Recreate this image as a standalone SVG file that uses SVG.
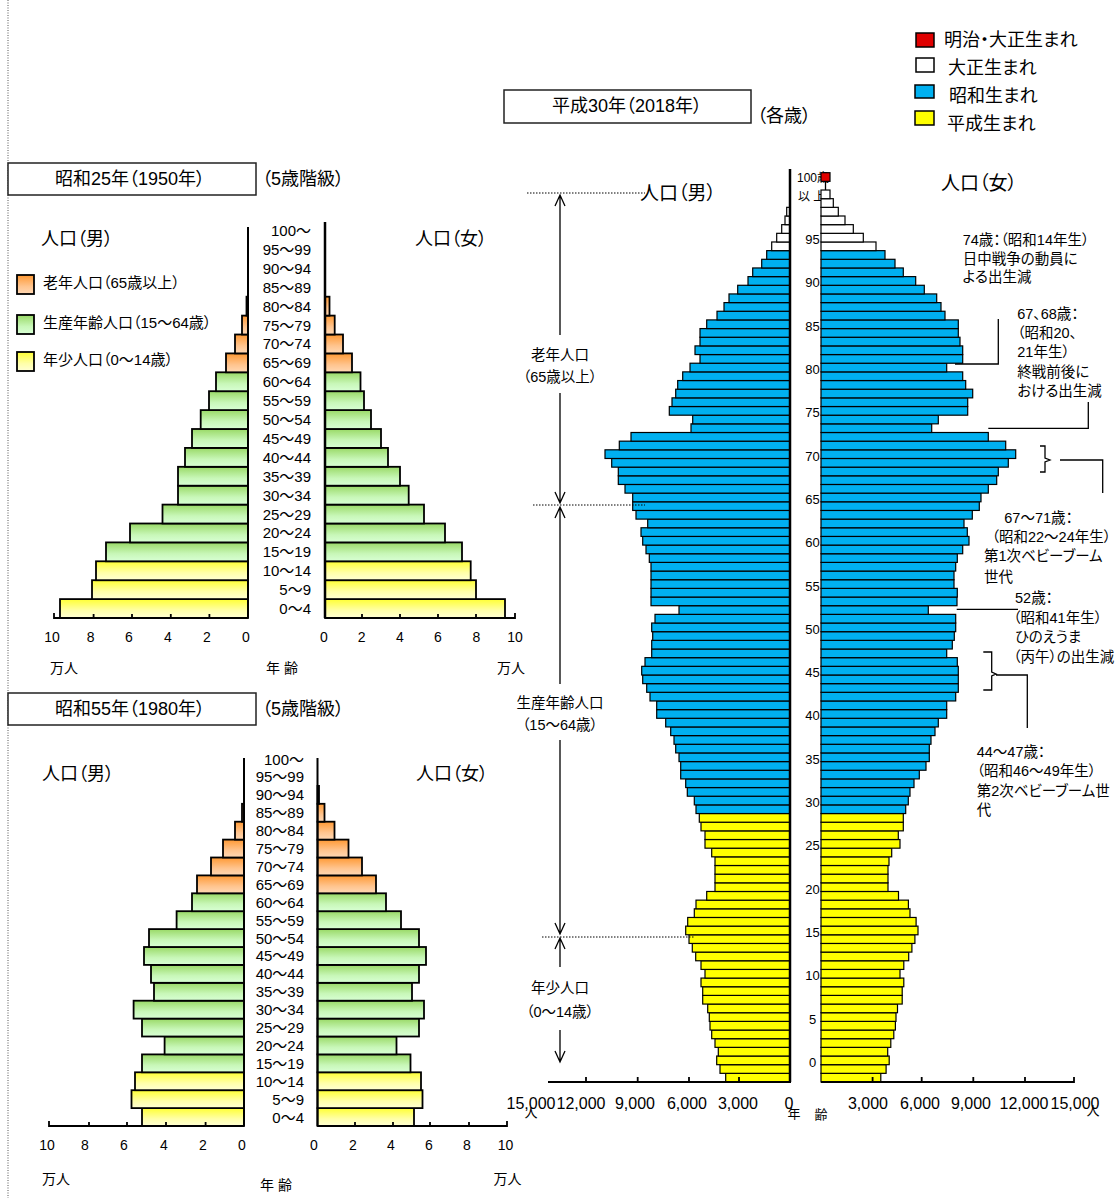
<svg xmlns="http://www.w3.org/2000/svg" width="1117" height="1198" viewBox="0 0 1117 1198">
<defs>
<linearGradient id="gO" x1="0" y1="0" x2="0" y2="1"><stop offset="0" stop-color="#FF9933"/><stop offset="0.6" stop-color="#FFC48E"/><stop offset="1" stop-color="#FFD8B4"/></linearGradient>
<linearGradient id="gG" x1="0" y1="0" x2="0" y2="1"><stop offset="0" stop-color="#99D966"/><stop offset="0.6" stop-color="#C8F7B8"/><stop offset="1" stop-color="#D8FFD4"/></linearGradient>
<linearGradient id="gY" x1="0" y1="0" x2="0" y2="1"><stop offset="0" stop-color="#FFFF33"/><stop offset="0.6" stop-color="#FFFFA8"/><stop offset="1" stop-color="#FFFFD4"/></linearGradient>
</defs>
<style>
text{font-family:"Liberation Sans","Noto Sans CJK JP",sans-serif;fill:#000;dominant-baseline:central;font-feature-settings:"palt"}
.s12{font-size:12px}.s13{font-size:13px}.s14{font-size:14px}.s145{font-size:14.5px}.s15{font-size:15px}.s16{font-size:16px}.s18{font-size:18px}.s19{font-size:19px}
.m{text-anchor:middle}.e{text-anchor:end}
.b1 rect{stroke:#000;stroke-width:1.8}
.o{fill:url(#gO)}.g{fill:url(#gG)}.y{fill:url(#gY)}
.b2 rect{stroke:#000;stroke-width:1.2}
.bl{fill:#00B0F0}.ye{fill:#FFFF00}.wh{fill:#FFFFFF}.rd{fill:#E00000}
.ax{stroke:#000;fill:none}
.dot{stroke:#000;stroke-width:1;stroke-dasharray:1.5 1.5;fill:none}
.ln{stroke:#000;stroke-width:1.3;fill:none}
.box{fill:#fff;stroke:#222;stroke-width:1.5}
</style>
<rect width="1117" height="1198" fill="#fff"/>
<line x1="8" y1="0" x2="8" y2="1198" stroke="#555" stroke-width="1" stroke-dasharray="1 1.5"/>

<!-- 1950 -->
<g id="p1950">
<rect class="box" x="8" y="163" width="248" height="32"/>
<text class="s18 m" x="130" y="179">昭和25年（1950年）</text>
<text class="s18" x="262" y="179">（5歳階級）</text>
<text class="s18" x="41" y="239">人口（男）</text>
<text class="s18" x="415" y="239">人口（女）</text>
<g id="legend1950" class="b1">
<rect class="o" x="17" y="275" width="17" height="19"/>
<rect class="g" x="17" y="315" width="17" height="19"/>
<rect class="y" x="17" y="352" width="17" height="19"/>
</g>
<text class="s15" x="43" y="282">老年人口（65歳以上）</text>
<text class="s15" x="43" y="322">生産年齢人口（15～64歳）</text>
<text class="s15" x="43" y="359">年少人口（0～14歳）</text>
<g class="b1">
<rect class="y" x="60" y="599.1" width="188" height="18.9"/>
<rect class="y" x="92" y="580.2" width="156" height="18.9"/>
<rect class="y" x="96" y="561.3" width="152" height="18.9"/>
<rect class="g" x="106" y="542.4" width="142" height="18.9"/>
<rect class="g" x="130" y="523.5" width="118" height="18.9"/>
<rect class="g" x="162.5" y="504.6" width="85.5" height="18.9"/>
<rect class="g" x="178" y="485.7" width="70" height="18.9"/>
<rect class="g" x="178" y="466.8" width="70" height="18.9"/>
<rect class="g" x="185" y="447.9" width="63" height="18.9"/>
<rect class="g" x="192" y="429" width="56" height="18.9"/>
<rect class="g" x="200.7" y="410.1" width="47.3" height="18.9"/>
<rect class="g" x="209" y="391.2" width="39" height="18.9"/>
<rect class="g" x="216" y="372.3" width="32" height="18.9"/>
<rect class="o" x="226" y="353.4" width="22" height="18.9"/>
<rect class="o" x="235" y="334.5" width="13" height="18.9"/>
<rect class="o" x="242" y="315.6" width="6" height="18.9"/>
<rect class="o" x="246.5" y="296.7" width="1.5" height="18.9"/>
<rect class="y" x="325" y="599.1" width="180" height="18.9"/>
<rect class="y" x="325" y="580.2" width="151" height="18.9"/>
<rect class="y" x="325" y="561.3" width="145.7" height="18.9"/>
<rect class="g" x="325" y="542.4" width="137" height="18.9"/>
<rect class="g" x="325" y="523.5" width="120" height="18.9"/>
<rect class="g" x="325" y="504.6" width="99" height="18.9"/>
<rect class="g" x="325" y="485.7" width="83.7" height="18.9"/>
<rect class="g" x="325" y="466.8" width="75" height="18.9"/>
<rect class="g" x="325" y="447.9" width="63" height="18.9"/>
<rect class="g" x="325" y="429" width="56" height="18.9"/>
<rect class="g" x="325" y="410.1" width="46" height="18.9"/>
<rect class="g" x="325" y="391.2" width="39" height="18.9"/>
<rect class="g" x="325" y="372.3" width="35.5" height="18.9"/>
<rect class="o" x="325" y="353.4" width="27" height="18.9"/>
<rect class="o" x="325" y="334.5" width="18" height="18.9"/>
<rect class="o" x="325" y="315.6" width="9.7" height="18.9"/>
<rect class="o" x="325" y="296.7" width="4.5" height="18.9"/>
</g>
<line class="ax" x1="248" y1="227" x2="248" y2="618" stroke-width="2"/>
<line class="ax" x1="325" y1="222" x2="325" y2="618" stroke-width="2.5"/>
<path class="ax" stroke-width="1.8" d="M54,613V618H248M93.6,614V618M132,614V618M170.8,614V618M209.4,614V618M325,618H515V613M362,614V618M400,614V618M438,614V618M476,614V618"/>
<g class="s15 e">
<text x="311" y="608.5">0～4</text><text x="311" y="589.6">5～9</text><text x="311" y="570.7">10～14</text><text x="311" y="551.8">15～19</text><text x="311" y="532.9">20～24</text><text x="311" y="514">25～29</text><text x="311" y="495.1">30～34</text><text x="311" y="476.2">35～39</text><text x="311" y="457.3">40～44</text><text x="311" y="438.4">45～49</text><text x="311" y="419.5">50～54</text><text x="311" y="400.6">55～59</text><text x="311" y="381.7">60～64</text><text x="311" y="362.8">65～69</text><text x="311" y="343.9">70～74</text><text x="311" y="325">75～79</text><text x="311" y="306.1">80～84</text><text x="311" y="287.2">85～89</text><text x="311" y="268.3">90～94</text><text x="311" y="249.4">95～99</text><text x="311" y="230.5">100～</text>
</g>
<g class="s14 m">
<text x="52" y="637">10</text><text x="90.6" y="637">8</text><text x="129" y="637">6</text><text x="168" y="637">4</text><text x="207" y="637">2</text><text x="246" y="637">0</text>
<text x="324" y="637">0</text><text x="361.6" y="637">2</text><text x="400" y="637">4</text><text x="438" y="637">6</text><text x="476.5" y="637">8</text><text x="515" y="637">10</text>
<text x="64" y="668">万人</text><text x="282" y="668">年 齢</text><text x="511" y="668">万人</text>
</g>
</g>

<!-- 1980 -->
<g id="p1980">
<rect class="box" x="8" y="693" width="248" height="32"/>
<text class="s18 m" x="130" y="709">昭和55年（1980年）</text>
<text class="s18" x="262" y="709">（5歳階級）</text>
<text class="s18" x="42" y="774">人口（男）</text>
<text class="s18" x="416" y="774">人口（女）</text>
<g class="b1">
<rect class="y" x="142" y="1108.1" width="102" height="17.9"/>
<rect class="y" x="131.5" y="1090.2" width="112.5" height="17.9"/>
<rect class="y" x="135" y="1072.3" width="109" height="17.9"/>
<rect class="g" x="142" y="1054.4" width="102" height="17.9"/>
<rect class="g" x="164.6" y="1036.5" width="79.4" height="17.9"/>
<rect class="g" x="142" y="1018.6" width="102" height="17.9"/>
<rect class="g" x="133.6" y="1000.7" width="110.4" height="17.9"/>
<rect class="g" x="154" y="982.8" width="90" height="17.9"/>
<rect class="g" x="151" y="964.9" width="93" height="17.9"/>
<rect class="g" x="144" y="947" width="100" height="17.9"/>
<rect class="g" x="149" y="929.1" width="95" height="17.9"/>
<rect class="g" x="176.6" y="911.2" width="67.4" height="17.9"/>
<rect class="g" x="192" y="893.3" width="52" height="17.9"/>
<rect class="o" x="197" y="875.4" width="47" height="17.9"/>
<rect class="o" x="211" y="857.5" width="33" height="17.9"/>
<rect class="o" x="223" y="839.6" width="21" height="17.9"/>
<rect class="o" x="235" y="821.7" width="9" height="17.9"/>
<rect class="o" x="242" y="803.8" width="2" height="17.9"/>
<rect class="y" x="317.5" y="1108.1" width="96.5" height="17.9"/>
<rect class="y" x="317.5" y="1090.2" width="105" height="17.9"/>
<rect class="y" x="317.5" y="1072.3" width="103.5" height="17.9"/>
<rect class="g" x="317.5" y="1054.4" width="93" height="17.9"/>
<rect class="g" x="317.5" y="1036.5" width="79" height="17.9"/>
<rect class="g" x="317.5" y="1018.6" width="101.5" height="17.9"/>
<rect class="g" x="317.5" y="1000.7" width="106.5" height="17.9"/>
<rect class="g" x="317.5" y="982.8" width="94.5" height="17.9"/>
<rect class="g" x="317.5" y="964.9" width="101.5" height="17.9"/>
<rect class="g" x="317.5" y="947" width="108.5" height="17.9"/>
<rect class="g" x="317.5" y="929.1" width="101.5" height="17.9"/>
<rect class="g" x="317.5" y="911.2" width="83.5" height="17.9"/>
<rect class="g" x="317.5" y="893.3" width="68.5" height="17.9"/>
<rect class="o" x="317.5" y="875.4" width="58.5" height="17.9"/>
<rect class="o" x="317.5" y="857.5" width="44.5" height="17.9"/>
<rect class="o" x="317.5" y="839.6" width="31" height="17.9"/>
<rect class="o" x="317.5" y="821.7" width="17" height="17.9"/>
<rect class="o" x="317.5" y="803.8" width="7" height="17.9"/>
<rect class="o" x="317.5" y="785.9" width="1.5" height="17.9"/>
</g>
<line class="ax" x1="244" y1="758" x2="244" y2="1126" stroke-width="2"/>
<line class="ax" x1="317.5" y1="758" x2="317.5" y2="1126" stroke-width="2"/>
<path class="ax" stroke-width="1.8" d="M49,1121V1126H244M89,1122V1126M127,1122V1126M166,1122V1126M205.6,1122V1126M317.5,1126H507V1121M355,1122V1126M393,1122V1126M430,1122V1126M469,1122V1126"/>
<g class="s15 e">
<text x="304" y="1117">0～4</text><text x="304" y="1099.1">5～9</text><text x="304" y="1081.2">10～14</text><text x="304" y="1063.3">15～19</text><text x="304" y="1045.4">20～24</text><text x="304" y="1027.5">25～29</text><text x="304" y="1009.6">30～34</text><text x="304" y="991.7">35～39</text><text x="304" y="973.8">40～44</text><text x="304" y="955.9">45～49</text><text x="304" y="938">50～54</text><text x="304" y="920.1">55～59</text><text x="304" y="902.2">60～64</text><text x="304" y="884.3">65～69</text><text x="304" y="866.4">70～74</text><text x="304" y="848.5">75～79</text><text x="304" y="830.6">80～84</text><text x="304" y="812.7">85～89</text><text x="304" y="794.8">90～94</text><text x="304" y="776.9">95～99</text><text x="304" y="759">100～</text>
</g>
<g class="s14 m">
<text x="47" y="1145">10</text><text x="85" y="1145">8</text><text x="124" y="1145">6</text><text x="164" y="1145">4</text><text x="203" y="1145">2</text><text x="242" y="1145">0</text>
<text x="314" y="1145">0</text><text x="353" y="1145">2</text><text x="391" y="1145">4</text><text x="429" y="1145">6</text><text x="467" y="1145">8</text><text x="505.5" y="1145">10</text>
<text x="56" y="1179">万人</text><text x="276" y="1185">年 齢</text><text x="507.5" y="1179">万人</text>
</g>
</g>

<!-- 2018 -->
<g id="p2018">
<rect class="box" x="504" y="90" width="247" height="33"/>
<text class="s18 m" x="627" y="106">平成30年（2018年）</text>
<text class="s18" x="757" y="116">（各歳）</text>
<g id="legend2018" stroke="#000" stroke-width="1.5">
<rect class="rd" x="916" y="33" width="18" height="14"/>
<rect class="wh" x="916" y="58" width="18" height="14"/>
<rect class="bl" x="915" y="85" width="19" height="13"/>
<rect class="ye" x="915" y="111" width="19" height="14"/>
</g>
<text class="s18" x="944" y="40">明治・大正生まれ</text>
<text class="s18" x="948" y="68">大正生まれ</text>
<text class="s18" x="949" y="96">昭和生まれ</text>
<text class="s18" x="947" y="124">平成生まれ</text>
<text class="s19" x="640" y="193">人口（男）</text>
<text class="s19" x="941" y="183">人口（女）</text>

<g class="s13 m">
<text x="812.5" y="1062.3">0</text><text x="812.5" y="1019">5</text><text x="812.5" y="975.7">10</text><text x="812.5" y="932.4">15</text><text x="812.5" y="889.1">20</text><text x="812.5" y="845.8">25</text><text x="812.5" y="802.5">30</text><text x="812.5" y="759.2">35</text><text x="812.5" y="715.9">40</text><text x="812.5" y="672.6">45</text><text x="812.5" y="629.3">50</text><text x="812.5" y="586">55</text><text x="812.5" y="542.7">60</text><text x="812.5" y="499.4">65</text><text x="812.5" y="456.1">70</text><text x="812.5" y="412.8">75</text><text x="812.5" y="369.5">80</text><text x="812.5" y="326.2">85</text><text x="812.5" y="282.9">90</text><text x="812.5" y="239.6">95</text>
</g>
<text class="s12" x="797" y="178">100歳</text>
<text class="s12" x="798" y="197">以 上</text>

<g id="male2018" class="b2">
<g class="ye">
<rect x="725.7" y="1073.34" width="64.3" height="8.66"/><rect x="720" y="1064.68" width="70" height="8.66"/><rect x="716.7" y="1056.02" width="73.3" height="8.66"/><rect x="718.3" y="1047.36" width="71.7" height="8.66"/><rect x="715" y="1038.7" width="75" height="8.66"/><rect x="711.7" y="1030.04" width="78.3" height="8.66"/><rect x="710" y="1021.38" width="80" height="8.66"/><rect x="709.3" y="1012.72" width="80.7" height="8.66"/><rect x="707.7" y="1004.06" width="82.3" height="8.66"/><rect x="702.7" y="995.4" width="87.3" height="8.66"/><rect x="702.7" y="986.74" width="87.3" height="8.66"/><rect x="701" y="978.08" width="89" height="8.66"/><rect x="705" y="969.42" width="85" height="8.66"/><rect x="701" y="960.76" width="89" height="8.66"/><rect x="695.7" y="952.1" width="94.3" height="8.66"/><rect x="692.3" y="943.44" width="97.7" height="8.66"/><rect x="689" y="934.78" width="101" height="8.66"/><rect x="685.7" y="926.12" width="104.3" height="8.66"/><rect x="687.7" y="917.46" width="102.3" height="8.66"/><rect x="694.3" y="908.8" width="95.7" height="8.66"/><rect x="696" y="900.14" width="94" height="8.66"/><rect x="706.7" y="891.48" width="83.3" height="8.66"/><rect x="715" y="882.82" width="75" height="8.66"/><rect x="715" y="874.16" width="75" height="8.66"/><rect x="715" y="865.5" width="75" height="8.66"/><rect x="715" y="856.84" width="75" height="8.66"/><rect x="711.7" y="848.18" width="78.3" height="8.66"/><rect x="705" y="839.52" width="85" height="8.66"/><rect x="705" y="830.86" width="85" height="8.66"/><rect x="701" y="822.2" width="89" height="8.66"/><rect x="699.3" y="813.54" width="90.7" height="8.66"/>
</g>
<g class="bl">
<rect x="696" y="804.88" width="94" height="8.66"/><rect x="694.3" y="796.22" width="95.7" height="8.66"/><rect x="687.3" y="787.56" width="102.7" height="8.66"/><rect x="685.7" y="778.9" width="104.3" height="8.66"/><rect x="680.7" y="770.24" width="109.3" height="8.66"/><rect x="680.7" y="761.58" width="109.3" height="8.66"/><rect x="679" y="752.92" width="111" height="8.66"/><rect x="675.7" y="744.26" width="114.3" height="8.66"/><rect x="674" y="735.6" width="116" height="8.66"/><rect x="670.7" y="726.94" width="119.3" height="8.66"/><rect x="665.7" y="718.28" width="124.3" height="8.66"/><rect x="656.7" y="709.62" width="133.3" height="8.66"/><rect x="656.7" y="700.96" width="133.3" height="8.66"/><rect x="650" y="692.3" width="140" height="8.66"/><rect x="646.7" y="683.64" width="143.3" height="8.66"/><rect x="642.7" y="674.98" width="147.3" height="8.66"/><rect x="641.7" y="666.32" width="148.3" height="8.66"/><rect x="645" y="657.66" width="145" height="8.66"/><rect x="651.7" y="649" width="138.3" height="8.66"/><rect x="651.7" y="640.34" width="138.3" height="8.66"/><rect x="652.7" y="631.68" width="137.3" height="8.66"/><rect x="651.7" y="623.02" width="138.3" height="8.66"/><rect x="655" y="614.36" width="135" height="8.66"/><rect x="679" y="605.7" width="111" height="8.66"/><rect x="651" y="597.04" width="139" height="8.66"/><rect x="651" y="588.38" width="139" height="8.66"/><rect x="651" y="579.72" width="139" height="8.66"/><rect x="651" y="571.06" width="139" height="8.66"/><rect x="651" y="562.4" width="139" height="8.66"/><rect x="649.3" y="553.74" width="140.7" height="8.66"/><rect x="646" y="545.08" width="144" height="8.66"/><rect x="642.7" y="536.42" width="147.3" height="8.66"/><rect x="641" y="527.76" width="149" height="8.66"/><rect x="647.7" y="519.1" width="142.3" height="8.66"/><rect x="636" y="510.44" width="154" height="8.66"/><rect x="632.7" y="501.78" width="157.3" height="8.66"/><rect x="632.7" y="493.12" width="157.3" height="8.66"/><rect x="625" y="484.46" width="165" height="8.66"/><rect x="618.3" y="475.8" width="171.7" height="8.66"/><rect x="618.3" y="467.14" width="171.7" height="8.66"/><rect x="611.7" y="458.48" width="178.3" height="8.66"/><rect x="605" y="449.82" width="185" height="8.66"/><rect x="619.3" y="441.16" width="170.7" height="8.66"/><rect x="631" y="432.5" width="159" height="8.66"/><rect x="691" y="423.84" width="99" height="8.66"/><rect x="692.7" y="415.18" width="97.3" height="8.66"/><rect x="669.3" y="406.52" width="120.7" height="8.66"/><rect x="672" y="397.86" width="118" height="8.66"/><rect x="675.7" y="389.2" width="114.3" height="8.66"/><rect x="677.7" y="380.54" width="112.3" height="8.66"/><rect x="682.7" y="371.88" width="107.3" height="8.66"/><rect x="690" y="363.22" width="100" height="8.66"/><rect x="700" y="354.56" width="90" height="8.66"/><rect x="695" y="345.9" width="95" height="8.66"/><rect x="700" y="337.24" width="90" height="8.66"/><rect x="700" y="328.58" width="90" height="8.66"/><rect x="706.7" y="319.92" width="83.3" height="8.66"/><rect x="717" y="311.26" width="73" height="8.66"/><rect x="724" y="302.6" width="66" height="8.66"/><rect x="729" y="293.94" width="61" height="8.66"/><rect x="737.7" y="285.28" width="52.3" height="8.66"/><rect x="748" y="276.62" width="42" height="8.66"/><rect x="752.7" y="267.96" width="37.3" height="8.66"/><rect x="761.7" y="259.3" width="28.3" height="8.66"/><rect x="766.7" y="250.64" width="23.3" height="8.66"/>
</g>
<g class="wh">
<rect x="771.7" y="241.98" width="18.3" height="8.66"/><rect x="776.7" y="233.32" width="13.3" height="8.66"/><rect x="781.7" y="224.66" width="8.3" height="8.66"/><rect x="785" y="216" width="5" height="8.66"/><rect x="786.7" y="207.34" width="3.3" height="8.66"/>
</g>
</g>

<g id="female2018" class="b2">
<g class="ye">
<rect x="821" y="1073.34" width="59.8" height="8.66"/><rect x="821" y="1064.68" width="65.1" height="8.66"/><rect x="821" y="1056.02" width="68.2" height="8.66"/><rect x="821" y="1047.36" width="66.7" height="8.66"/><rect x="821" y="1038.7" width="69.8" height="8.66"/><rect x="821" y="1030.04" width="72.8" height="8.66"/><rect x="821" y="1021.38" width="74.4" height="8.66"/><rect x="821" y="1012.72" width="75" height="8.66"/><rect x="821" y="1004.06" width="76.5" height="8.66"/><rect x="821" y="995.4" width="81.2" height="8.66"/><rect x="821" y="986.74" width="81.2" height="8.66"/><rect x="821" y="978.08" width="82.8" height="8.66"/><rect x="821" y="969.42" width="79" height="8.66"/><rect x="821" y="960.76" width="82.8" height="8.66"/><rect x="821" y="952.1" width="87.7" height="8.66"/><rect x="821" y="943.44" width="90.9" height="8.66"/><rect x="821" y="934.78" width="93.9" height="8.66"/><rect x="821" y="926.12" width="97" height="8.66"/><rect x="821" y="917.46" width="95.1" height="8.66"/><rect x="821" y="908.8" width="89" height="8.66"/><rect x="821" y="900.14" width="87.4" height="8.66"/><rect x="821" y="891.48" width="77.5" height="8.66"/><rect x="821" y="882.82" width="67" height="8.66"/><rect x="821" y="874.16" width="67" height="8.66"/><rect x="821" y="865.5" width="67" height="8.66"/><rect x="821" y="856.84" width="68" height="8.66"/><rect x="821" y="848.18" width="70.7" height="8.66"/><rect x="821" y="839.52" width="79" height="8.66"/><rect x="821" y="830.86" width="77.3" height="8.66"/><rect x="821" y="822.2" width="82.3" height="8.66"/><rect x="821" y="813.54" width="82.3" height="8.66"/>
</g>
<g class="bl">
<rect x="821" y="804.88" width="84.7" height="8.66"/><rect x="821" y="796.22" width="87.3" height="8.66"/><rect x="821" y="787.56" width="89" height="8.66"/><rect x="821" y="778.9" width="93" height="8.66"/><rect x="821" y="770.24" width="98.3" height="8.66"/><rect x="821" y="761.58" width="105" height="8.66"/><rect x="821" y="752.92" width="108.3" height="8.66"/><rect x="821" y="744.26" width="108.3" height="8.66"/><rect x="821" y="735.6" width="110" height="8.66"/><rect x="821" y="726.94" width="114" height="8.66"/><rect x="821" y="718.28" width="117.3" height="8.66"/><rect x="821" y="709.62" width="125.7" height="8.66"/><rect x="821" y="700.96" width="125.7" height="8.66"/><rect x="821" y="692.3" width="134.7" height="8.66"/><rect x="821" y="683.64" width="137.3" height="8.66"/><rect x="821" y="674.98" width="137.3" height="8.66"/><rect x="821" y="666.32" width="137.3" height="8.66"/><rect x="821" y="657.66" width="136.3" height="8.66"/><rect x="821" y="649" width="125.7" height="8.66"/><rect x="821" y="640.34" width="131.3" height="8.66"/><rect x="821" y="631.68" width="133.3" height="8.66"/><rect x="821" y="623.02" width="134.7" height="8.66"/><rect x="821" y="614.36" width="134.7" height="8.66"/><rect x="821" y="605.7" width="107.3" height="8.66"/><rect x="821" y="597.04" width="136" height="8.66"/><rect x="821" y="588.38" width="136.3" height="8.66"/><rect x="821" y="579.72" width="133" height="8.66"/><rect x="821" y="571.06" width="133" height="8.66"/><rect x="821" y="562.4" width="134.7" height="8.66"/><rect x="821" y="553.74" width="136.3" height="8.66"/><rect x="821" y="545.08" width="141.7" height="8.66"/><rect x="821" y="536.42" width="148" height="8.66"/><rect x="821" y="527.76" width="146.3" height="8.66"/><rect x="821" y="519.1" width="143" height="8.66"/><rect x="821" y="510.44" width="151.3" height="8.66"/><rect x="821" y="501.78" width="158.3" height="8.66"/><rect x="821" y="493.12" width="160" height="8.66"/><rect x="821" y="484.46" width="167.3" height="8.66"/><rect x="821" y="475.8" width="175.7" height="8.66"/><rect x="821" y="467.14" width="177.3" height="8.66"/><rect x="821" y="458.48" width="187.3" height="8.66"/><rect x="821" y="449.82" width="194.7" height="8.66"/><rect x="821" y="441.16" width="184.7" height="8.66"/><rect x="821" y="432.5" width="167.3" height="8.66"/><rect x="821" y="423.84" width="110.7" height="8.66"/><rect x="821" y="415.18" width="117.3" height="8.66"/><rect x="821" y="406.52" width="146.7" height="8.66"/><rect x="821" y="397.86" width="146.7" height="8.66"/><rect x="821" y="389.2" width="151.7" height="8.66"/><rect x="821" y="380.54" width="144.7" height="8.66"/><rect x="821" y="371.88" width="141.7" height="8.66"/><rect x="821" y="363.22" width="125.7" height="8.66"/><rect x="821" y="354.56" width="141.7" height="8.66"/><rect x="821" y="345.9" width="141.7" height="8.66"/><rect x="821" y="337.24" width="139" height="8.66"/><rect x="821" y="328.58" width="137.3" height="8.66"/><rect x="821" y="319.92" width="137.3" height="8.66"/><rect x="821" y="311.26" width="124" height="8.66"/><rect x="821" y="302.6" width="120" height="8.66"/><rect x="821" y="293.94" width="115.7" height="8.66"/><rect x="821" y="285.28" width="103.3" height="8.66"/><rect x="821" y="276.62" width="94.7" height="8.66"/><rect x="821" y="267.96" width="82.3" height="8.66"/><rect x="821" y="259.3" width="74" height="8.66"/><rect x="821" y="250.64" width="64" height="8.66"/>
</g>
<g class="wh">
<rect x="821" y="241.98" width="55" height="8.66"/><rect x="821" y="233.32" width="42.3" height="8.66"/><rect x="821" y="224.66" width="32.3" height="8.66"/><rect x="821" y="216" width="24" height="8.66"/><rect x="821" y="207.34" width="17.3" height="8.66"/><rect x="821" y="198.68" width="12.3" height="8.66"/><rect x="821" y="190.02" width="9" height="8.66"/>
</g>
<rect class="rd" x="821" y="172.7" width="9" height="8.66"/>
</g>
<line class="ln" x1="825.5" y1="181.4" x2="825.5" y2="190"/>

<line class="ax" x1="790" y1="169" x2="790" y2="1082" stroke-width="2.5"/>
<path class="ax" stroke-width="1.8" d="M548,1082H791M586,1077V1082M637.7,1077V1082M689,1077V1082M739,1077V1082M821,1082H1074V1077M872.6,1077V1082M921.7,1077V1082M973.3,1077V1082M1025,1077V1082"/>
<g class="s16 m">
<text x="531" y="1103">15,000</text><text x="581" y="1103">12,000</text><text x="635" y="1103">9,000</text><text x="687" y="1103">6,000</text><text x="738" y="1103">3,000</text><text x="789" y="1103">0</text>
<text x="868" y="1103">3,000</text><text x="920" y="1103">6,000</text><text x="971" y="1103">9,000</text><text x="1024" y="1103">12,000</text><text x="1075" y="1103">15,000</text>
</g>
<g class="s13 m">
<text x="531" y="1112">人</text><text x="1093" y="1110">人</text><text x="794" y="1113">年</text><text x="821" y="1114">齢</text>
</g>

<g id="ageArrows">
<path class="dot" d="M527,193H645M533,505H645M542,937H695"/>
<path class="ln" d="M560,195V335M560,393V503M555,206L560,195L565,206M555,492L560,503L565,492"/>
<path class="ln" d="M560,507V684M560,740V934M555,518L560,507L565,518M555,923L560,934L565,923"/>
<path class="ln" d="M560,938V967M560,1030V1062M555,949L560,938L565,949M555,1051L560,1062L565,1051"/>
</g>
<g class="s145 m">
<text x="560" y="355">老年人口</text><text x="560" y="377">（65歳以上）</text>
<text x="560" y="703">生産年齢人口</text><text x="560" y="725">（15～64歳）</text>
<text x="560" y="988">年少人口</text><text x="560" y="1012">（0～14歳）</text>
</g>

<g id="notes">
<path class="ln" d="M998.3,319V364H955M1088.3,402V428.3H988.3"/>
<path class="ln" d="M1040,446H1045V458L1050,460L1045,462V472H1040M1060,460H1102.7V493"/>
<path class="ln" d="M956.7,609.3H1018"/>
<path class="ln" d="M983.3,652H991.7V672L996,674L991.7,676V690H983.3M996,675H1027.3V728"/>
</g>
<g class="s145">
<text x="962.7" y="240">74歳：（昭和14年生）</text>
<text x="962.7" y="259">日中戦争の動員に</text>
<text x="962.7" y="277">よる出生減</text>
<text x="1017.3" y="314">67、68歳：</text>
<text x="1017.3" y="333">（昭和20、</text>
<text x="1017.3" y="352">21年生）</text>
<text x="1017.3" y="372">終戦前後に</text>
<text x="1017.3" y="391">おける出生減</text>
<text x="1004.3" y="518">67～71歳：</text>
<text x="991.7" y="537">（昭和22～24年生）</text>
<text x="984" y="556">第1次ベビーブーム</text>
<text x="984" y="577">世代</text>
<text x="1015" y="598">52歳：</text>
<text x="1013.3" y="618">（昭和41年生）</text>
<text x="1015" y="637">ひのえうま</text>
<text x="1013.3" y="657">（丙午）の出生減</text>
<text x="976.7" y="752">44～47歳：</text>
<text x="976.7" y="771">（昭和46～49年生）</text>
<text x="976.7" y="791">第2次ベビーブーム世</text>
<text x="976.7" y="810">代</text>
</g>
</g>
</svg>
